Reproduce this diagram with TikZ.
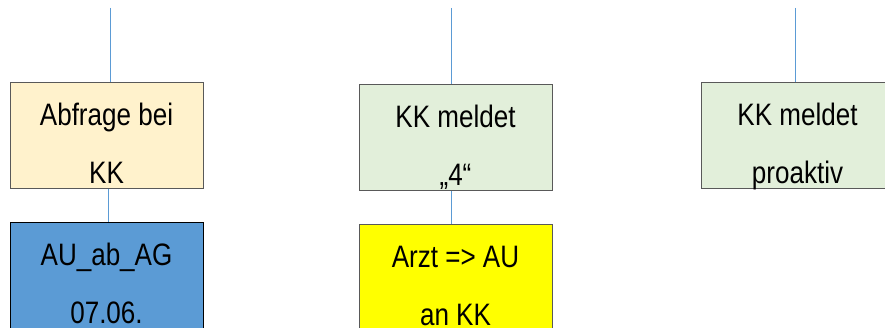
\documentclass[tikz,border=0pt]{standalone}
\usepackage{fontspec}
\setmainfont{Liberation Sans}[FakeStretch=0.84]
\usepackage{tikz}
\usetikzlibrary{positioning}

\definecolor{lineblue}{RGB}{91,155,213}
\definecolor{boxorange}{RGB}{255,242,204}
\definecolor{boxblue}{RGB}{91,155,213}
\definecolor{boxgreen}{RGB}{226,239,218}
\definecolor{boxyellow}{RGB}{255,255,0}
\definecolor{boxedge}{RGB}{89,89,89}

\begin{document}
\begin{tikzpicture}[x=1pt, y=-1pt,
		box/.style={rectangle, draw=boxedge, line width=1pt, minimum width=193pt, minimum height=106pt, inner sep=0pt},
		boxtext/.style={anchor=north, align=center, inner sep=0pt, font=\fontsize{31}{58}\selectfont},
		link/.style={draw=lineblue, line width=0.9pt}]
				\useasboundingbox (0,0) rectangle (885,328);
				
				% Boxes
				\node[box, fill=boxorange] (abfrage) at (106.5,136) {};
				\node[boxtext] (abfragetext) at ([yshift=-2.4pt]abfrage.north) {\strut Abfrage bei\\KK};
				
				\node[box, fill=boxblue, draw=black, minimum height=112pt, below=33pt of abfrage] (aubag) {};
				\node[boxtext] (aubagtext) at ([yshift=-2.4pt]aubag.north) {\strut AU\_ab\_AG\\07.06.};
				
				\node[box, fill=boxgreen] (meldet) at (455.5,138) {};
				\node[boxtext] (meldettext) at ([yshift=-2.4pt]meldet.north) {\strut KK meldet\\„4“};
				
				\node[box, fill=boxyellow, minimum height=112pt, below=33pt of meldet] (arzt) {};
				\node[boxtext] (arzttext) at ([yshift=-2.4pt]arzt.north) {\strut Arzt => AU\\an KK};
				
				\node[box, fill=boxgreen] (proaktiv) at (797.5,136) {};
				\node[boxtext] (proaktivtext) at ([yshift=-2.4pt]proaktiv.north) {\strut KK meldet\\proaktiv};
				
				% Lines
				\coordinate (in1) at (110,8);
				\coordinate (in2) at (451.5,8);
				\coordinate (in3) at (795,8);
				\draw[link] (in1) -- (in1 |- abfrage.north);
				\draw[link] (in2) -- (in2 |- meldet.north);
				\draw[link] (in3) -- (in3 |- proaktiv.north);
				\draw[link] ([xshift=1.5pt]abfrage.south) -- ([xshift=1.5pt]aubag.north);
				\draw[link] ([xshift=-4pt]meldet.south) -- ([xshift=-4pt]arzt.north);
			\end{tikzpicture}
\end{document}
